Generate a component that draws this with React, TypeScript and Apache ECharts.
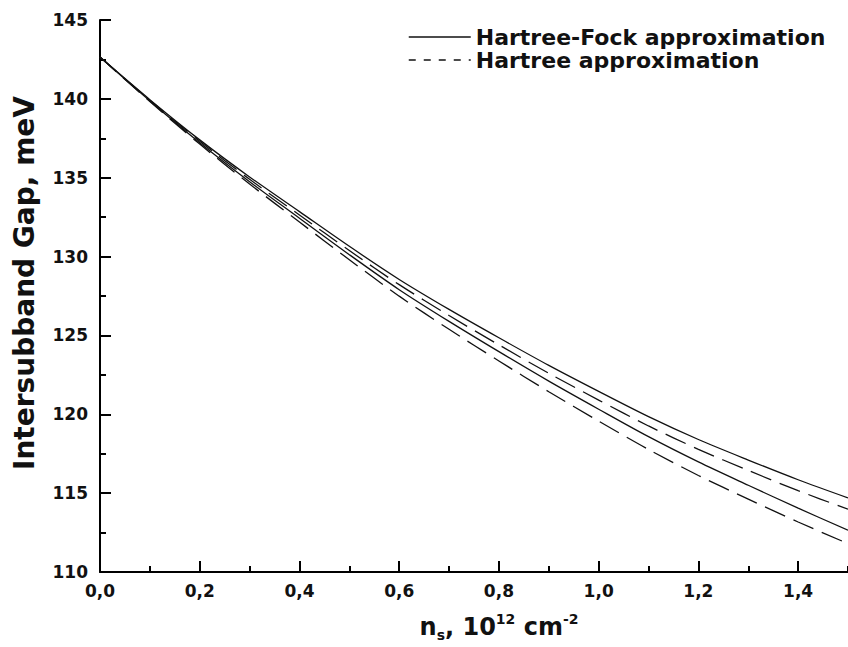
import React, { useEffect, useRef } from "react";
import * as echarts from "echarts";

// Carrier density n_s, in units of 10^12 cm^-2
const nsValues = [0, 0.1, 0.2, 0.3, 0.4, 0.5, 0.6, 0.7, 0.8, 0.9, 1.0, 1.1, 1.2, 1.3, 1.4, 1.5];

// Intersubband gap, meV
const hartreeFockUpper = [142.65, 139.95, 137.4, 135.05, 132.85, 130.65, 128.55, 126.65, 124.85, 123.1, 121.45, 119.85, 118.4, 117.1, 115.85, 114.7];
const hartreeUpper = [142.65, 139.91, 137.31, 134.9, 132.64, 130.38, 128.22, 126.26, 124.4, 122.6, 120.9, 119.26, 117.78, 116.44, 115.16, 113.98];
const hartreeFockLower = [142.65, 139.87, 137.22, 134.75, 132.43, 130.12, 127.9, 125.89, 123.97, 122.1, 120.32, 118.58, 116.98, 115.5, 114.05, 112.65];
const hartreeLower = [142.65, 139.83, 137.13, 134.6, 132.19, 129.8, 127.49, 125.39, 123.38, 121.43, 119.57, 117.77, 116.12, 114.62, 113.17, 111.8];

const HF_NAME = "Hartree-Fock approximation";
const H_NAME = "Hartree approximation";

const FONT = "DejaVu Sans";
const INK = "#111111";

const pairs = (ys: number[]) => nsValues.map((x, i) => [x, ys[i]]);

export default function App() {
  const ref = useRef<HTMLDivElement>(null);

  useEffect(() => {
    if (!ref.current) return;
    const chart = echarts.init(ref.current, undefined, { renderer: "svg" });

    const lineSeries = (name: string, ys: number[], dashed: boolean) => ({
      type: "line",
      name,
      data: pairs(ys),
      xAxisIndex: 0,
      yAxisIndex: 0,
      smooth: 0.3,
      symbol: "none",
      lineStyle: { color: INK, width: 1.3, type: dashed ? [22, 9] : "solid" },
      itemStyle: { color: INK },
    });

    const labelStyle = {
      fontFamily: FONT,
      fontWeight: "bold",
      fontSize: 17,
      color: INK,
    };

    const majorTick = { inside: true, length: 11, lineStyle: { color: "#000", width: 2 } };
    const minorTick = { inside: true, length: 6, lineStyle: { color: "#000", width: 2 } };
    const axisLine = { show: true, lineStyle: { color: "#000", width: 2 } };

    chart.setOption({
      animation: false,
      backgroundColor: "#ffffff",
      grid: { left: 100, top: 20, width: 750, height: 552 },
      legend: {
        left: 408,
        top: 26,
        padding: 0,
        orient: "vertical",
        itemWidth: 62,
        itemHeight: 14,
        itemGap: 1,
        selectedMode: false,
        textStyle: {
          fontFamily: FONT,
          fontWeight: "bold",
          fontSize: 22,
          lineHeight: 22,
          color: INK,
        },
        data: [
          { name: HF_NAME, itemStyle: { opacity: 0 }, lineStyle: { type: "solid", width: 1.5, color: INK } },
          { name: H_NAME, itemStyle: { opacity: 0 }, lineStyle: { type: [7, 8], width: 1.5, color: INK } },
        ],
      },
      xAxis: [
        {
          type: "value",
          position: "bottom",
          min: 0,
          max: 1.5,
          interval: 0.2,
          axisLine,
          axisTick: majorTick,
          splitLine: { show: false },
          axisLabel: {
            ...labelStyle,
            margin: 10,
            showMaxLabel: false,
            formatter: (v: number) => v.toFixed(1).replace(".", ","),
          },
          name: "{b|n}{sub|s}{b|, 10}{sup|12}{b| cm}{sup|-2}",
          nameLocation: "middle",
          nameGap: 40,
          nameTextStyle: {
            padding: [0, 0, 0, 50],
            rich: {
              b: { fontFamily: FONT, fontWeight: "bold", fontSize: 24, color: INK, lineHeight: 30, verticalAlign: "middle" },
              sub: { fontFamily: FONT, fontWeight: "bold", fontSize: 14, color: INK, lineHeight: 14, verticalAlign: "bottom" },
              sup: { fontFamily: FONT, fontWeight: "bold", fontSize: 14, color: INK, lineHeight: 12, verticalAlign: "top" },
            },
          },
        },
        {
          type: "value",
          position: "bottom",
          min: 0,
          max: 1.5,
          interval: 0.1,
          axisLine: { show: false },
          axisTick: minorTick,
          axisLabel: { show: false },
          splitLine: { show: false },
        },
      ],
      yAxis: [
        {
          type: "value",
          position: "left",
          min: 110,
          max: 145,
          interval: 5,
          axisLine,
          axisTick: majorTick,
          splitLine: { show: false },
          axisLabel: { ...labelStyle, margin: 12 },
          name: "Intersubband Gap, meV",
          nameLocation: "middle",
          nameRotate: 90,
          nameGap: 62,
          nameTextStyle: {
            fontFamily: FONT,
            fontWeight: "bold",
            fontSize: 28,
            color: INK,
            padding: [0, 0, 0, 26],
          },
        },
        {
          type: "value",
          position: "left",
          min: 110,
          max: 145,
          interval: 2.5,
          axisLine: { show: false },
          axisTick: minorTick,
          axisLabel: { show: false },
          splitLine: { show: false },
        },
      ],
      series: [
        lineSeries(HF_NAME, hartreeFockUpper, false),
        lineSeries(H_NAME, hartreeUpper, true),
        lineSeries(HF_NAME, hartreeFockLower, false),
        lineSeries(H_NAME, hartreeLower, true),
      ],
    });

    return () => chart.dispose();
  }, []);

  return (
    <div
      ref={ref}
      style={{ position: "absolute", left: 0, top: 0, width: 848, height: 647, background: "#fff" }}
    />
  );
}
